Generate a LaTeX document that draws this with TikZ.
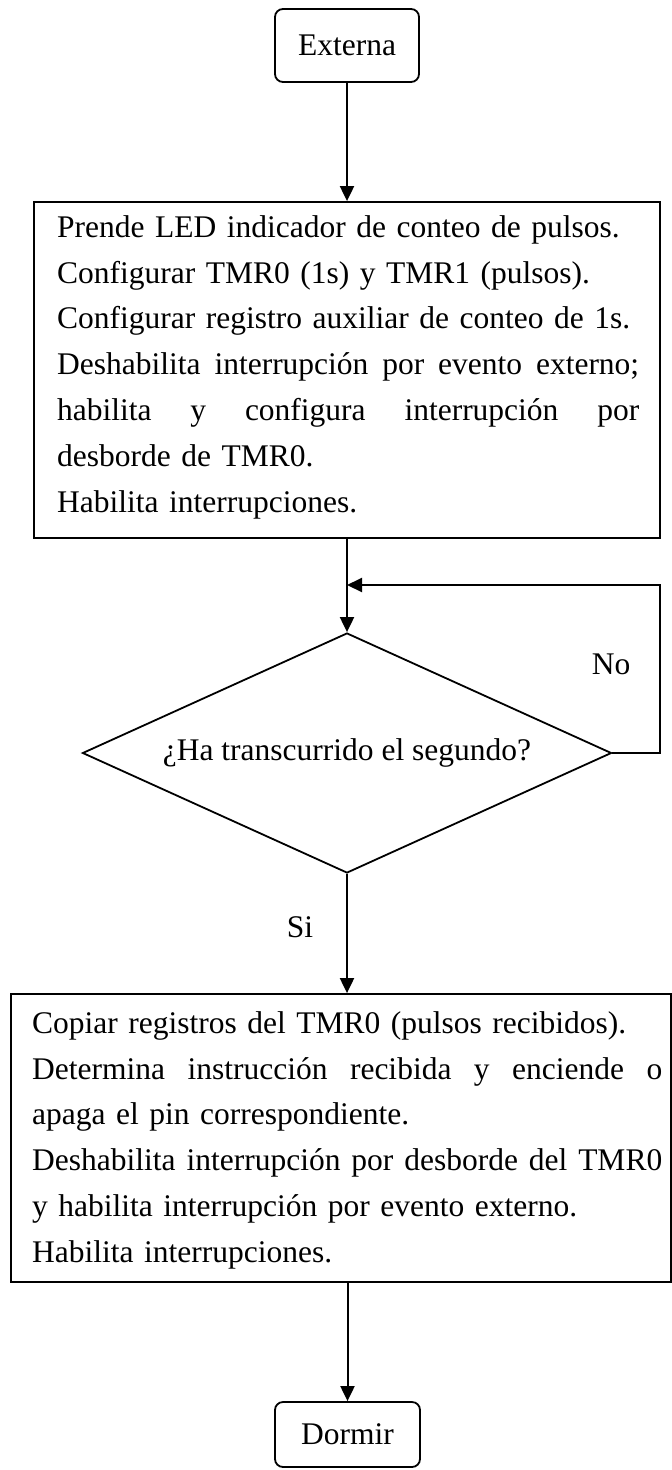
\documentclass[tikz,border=0pt]{standalone}
\usepackage{fontspec}
\setmainfont{Liberation Serif}
\usetikzlibrary{shapes.geometric,arrows.meta}
\setlength{\parindent}{0pt}
\newcommand{\jl}[2]{\leavevmode\hbox to #1{#2}}
\begin{document}
\begin{tikzpicture}[x=1pt,y=-1pt,
  fnt/.style={font=\fontsize{31.5}{45.8}\selectfont},
  shp/.style={draw,line width=1.8pt,inner sep=0pt,fnt},
  term/.style={shp,rounded corners=8pt},
  txt/.style={inner sep=0pt,anchor=north west,align=left,fnt},
  arr/.style={line width=2pt,-{Triangle[length=15pt,width=14pt]}},
  lbl/.style={inner sep=0pt,fnt}]
\useasboundingbox (0,0) rectangle (672,1470);

\node[term,minimum width=144pt,minimum height=73pt] (ext) at (347,45.5) {Externa};

\node[shp,minimum width=626pt,minimum height=336pt] (b1) at (347,370) {};
\node[txt,text width=582pt] (b1t) at (57,207) {\rule{0pt}{30pt}Prende LED indicador de conteo de pulsos.\\
Configurar TMR0 (1s) y TMR1 (pulsos).\\
Configurar registro auxiliar de conteo de 1s.\\
\jl{582pt}{Deshabilita\hfill interrupción\hfill por\hfill evento\hfill externo;}\\
\jl{582pt}{habilita\hfill y\hfill configura\hfill interrupción\hfill por}\\
desborde de TMR0.\\
Habilita interrupciones.};

\node[shp,diamond,aspect=2.204,minimum width=529pt,minimum height=240pt] (dec) at (347,753) {¿Ha transcurrido el segundo?};

\coordinate (m) at (347,585);

\node[shp,minimum width=660pt,minimum height=288pt] (b2) at (341,1138) {};
\node[txt,text width=630pt] (b2t) at (32,1003) {\rule{0pt}{30pt}Copiar registros del TMR0 (pulsos recibidos).\\
\jl{630pt}{Determina\hfill instrucción\hfill recibida\hfill y\hfill enciende\hfill o}\\
apaga el pin correspondiente.\\
\jl{630pt}{Deshabilita\hfill interrupción\hfill por\hfill desborde\hfill del\hfill TMR0}\\
y habilita interrupción por evento externo.\\
Habilita interrupciones.};

\node[term,minimum width=145pt,minimum height=65pt] (dor) at (347.5,1434.5) {Dormir};

\node[lbl] (no) at (611,664) {No};
\node[lbl] (si) at (300,927) {Si};

\draw[arr] (ext.south) -- (ext.south |- b1.north);
\draw[arr] (b1.south) -- (dec.north);
\draw[arr] (dec.east) -- ++(48,0) |- (m);
\draw[arr] (dec.south) -- (dec.south |- b2.north);
\draw[arr] (dor.north |- b2.south) -- (dor.north);
\end{tikzpicture}
\end{document}
